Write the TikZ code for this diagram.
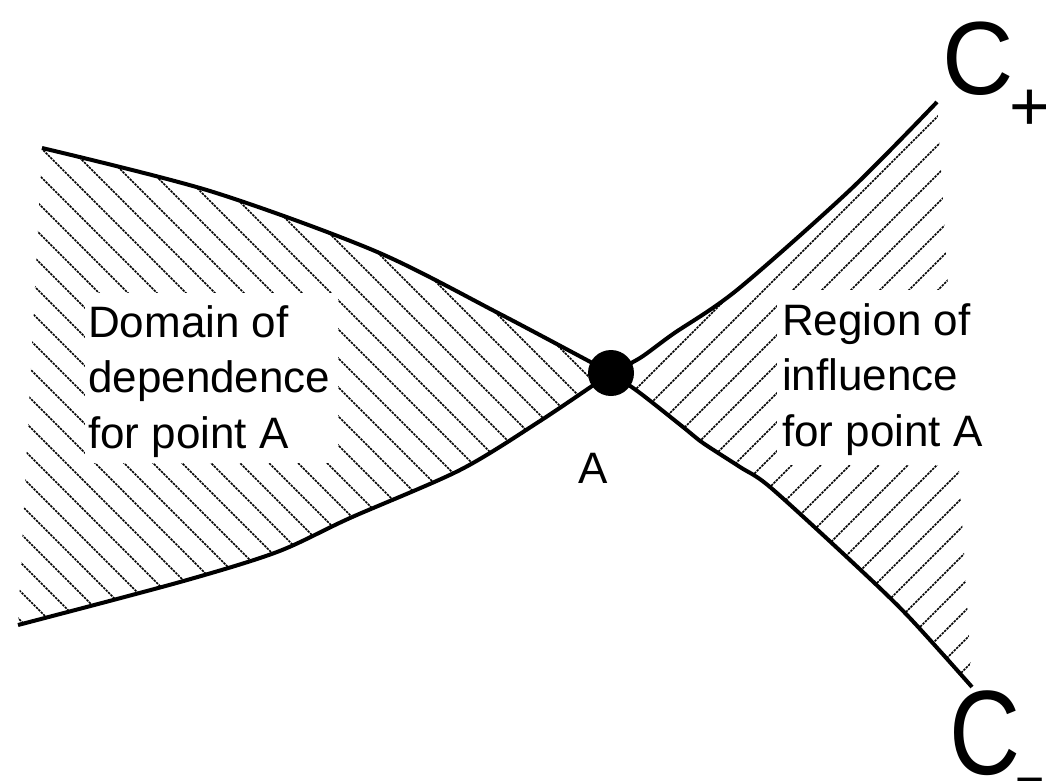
\documentclass[tikz,border=0pt]{standalone}
\usepackage{fontspec}
\setmainfont{Liberation Sans}
\begin{document}
\begin{tikzpicture}[x=1pt,y=-1pt,
  curve/.style={line width=4pt},
  hatch/.style={line width=1.5pt, dash pattern=on 2.4pt off 1pt},
  label/.style={inner sep=0pt, align=left, font=\fontsize{44}{55.5}\selectfont},
  bigC/.style={inner sep=0pt, anchor=base west},
]
\useasboundingbox (0,0) rectangle (1046,780);
\coordinate (A) at (611,373);
\coordinate (ul) at (42,148);
\coordinate (ll) at (18,625);
\coordinate (ur) at (937,102);
\coordinate (lr) at (972,687);
\def\upperleft{(ul) (210,191) (375,251) (500,314) (A)}
\def\lowerleftrev{(A) (540,421) (460,470) (350,518) (277,552) (180,582) (ll)}
\def\upperright{(A) (640,358) (673,334) (737,290) (850,190) (ur)}
\def\lowerrightrev{(lr) (907,615) (850,560) (770,487) (740,467) (703,443) (683,427) (640,393) (A)}
% hatching, left region
\begin{scope}
  \clip plot[smooth,tension=0.5] coordinates {\upperleft} -- plot[smooth,tension=0.5] coordinates {\lowerleftrev} -- cycle;
  \foreach \k in {-12,...,18}{
    \pgfmathsetmacro\c{107+29*\k}
    \draw[hatch] (0,\c) -- (700,{700+\c});
  }
\end{scope}
% hatching, right region
\begin{scope}
  \clip plot[smooth,tension=0.5] coordinates {\upperright} -- plot[smooth,tension=0.5] coordinates {\lowerrightrev} -- cycle;
  \foreach \k in {33,...,58}{
    \pgfmathsetmacro\c{10+29*\k}
    \draw[hatch] (550,{\c-550}) -- (1046,{\c-1046});
  }
\end{scope}
% white areas behind the texts
\fill[white] (85,293) rectangle (338,463);
\fill[white] (777,290) rectangle (1046,465);
% curves
\draw[curve] plot[smooth,tension=0.5] coordinates {\upperleft};
\draw[curve] plot[smooth,tension=0.5] coordinates {\lowerleftrev};
\draw[curve] plot[smooth,tension=0.5] coordinates {\upperright};
\draw[curve] plot[smooth,tension=0.5] coordinates {\lowerrightrev};
% point A
\node[circle, fill=black, minimum size=46pt, inner sep=0pt] (dot) at (A) {};
\node[inner sep=0pt, anchor=base, font=\fontsize{44}{55}\selectfont] (Alab) at (593,483) {A};
% texts
\node[label, anchor=north west] (dom) at (88,305) {Domain of\\dependence\\for point A};
\node[label, anchor=north west] (reg) at (782,303) {Region of\\influence\\for point A};
% C+ and C-
\node[bigC, font=\fontsize{104}{104}\selectfont] (Cp) at (942,94) {\scalebox{0.95}[1]{C}};
\node[bigC, font=\fontsize{70}{70}\selectfont] (plus) at (1009,130) {+};
\node[bigC, font=\fontsize{120}{120}\selectfont] (Cm) at (949,774) {\scalebox{0.82}[1]{C}};
\node[bigC, font=\fontsize{50}{50}\selectfont] (minus) at (1015,796) {−};
\end{tikzpicture}
\end{document}
